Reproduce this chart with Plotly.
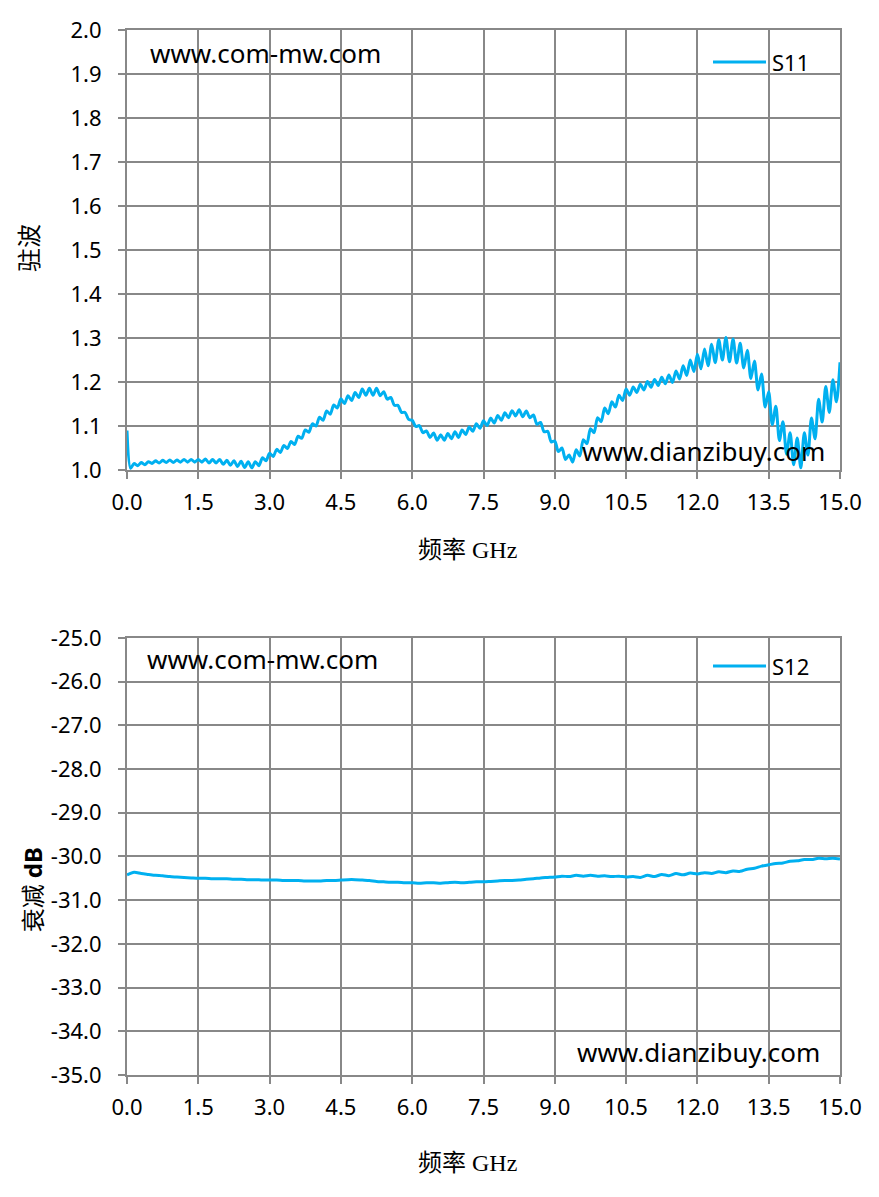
import plotly.graph_objects as go

# sweep: 0 - 15 GHz
s11_step = 0.075
s12_step = 0.15

s11_vswr = [
    1.090, 1.004, 1.015, 1.010, 1.017, 1.012, 1.019, 1.015, 1.021, 1.016,
    1.022, 1.017, 1.023, 1.017, 1.023, 1.018, 1.024, 1.018, 1.024, 1.018,
    1.024, 1.018, 1.025, 1.016, 1.024, 1.016, 1.024, 1.013, 1.022, 1.011,
    1.021, 1.008, 1.020, 1.006, 1.019, 1.005, 1.019, 1.010, 1.028, 1.021,
    1.038, 1.031, 1.047, 1.040, 1.056, 1.049, 1.065, 1.058, 1.077, 1.072,
    1.091, 1.086, 1.105, 1.100, 1.120, 1.113, 1.134, 1.127, 1.148, 1.141,
    1.162, 1.151, 1.169, 1.158, 1.176, 1.165, 1.184, 1.170, 1.186, 1.170,
    1.186, 1.169, 1.178, 1.161, 1.165, 1.147, 1.147, 1.131, 1.131, 1.115,
    1.113, 1.099, 1.101, 1.085, 1.089, 1.074, 1.084, 1.068, 1.080, 1.068,
    1.083, 1.071, 1.087, 1.074, 1.091, 1.081, 1.098, 1.088, 1.105, 1.095,
    1.112, 1.101, 1.118, 1.107, 1.124, 1.113, 1.130, 1.119, 1.135, 1.123,
    1.137, 1.121, 1.134, 1.119, 1.125, 1.104, 1.108, 1.087, 1.088, 1.064,
    1.066, 1.042, 1.050, 1.024, 1.034, 1.018, 1.046, 1.032, 1.069, 1.060,
    1.094, 1.085, 1.119, 1.110, 1.141, 1.128, 1.155, 1.143, 1.170, 1.158,
    1.184, 1.170, 1.189, 1.176, 1.195, 1.182, 1.201, 1.188, 1.206, 1.192,
    1.211, 1.196, 1.216, 1.199, 1.225, 1.207, 1.237, 1.215, 1.250, 1.224,
    1.263, 1.230, 1.275, 1.237, 1.286, 1.244, 1.296, 1.250, 1.301, 1.246,
    1.298, 1.243, 1.288, 1.232, 1.272, 1.208, 1.248, 1.182, 1.218, 1.143,
    1.178, 1.103, 1.145, 1.067, 1.110, 1.036, 1.085, 1.012, 1.073, 1.005,
    1.085, 1.034, 1.118, 1.071, 1.161, 1.109, 1.190, 1.131, 1.205, 1.155,
    1.245,
]

s12_db = [
    -30.42, -30.36, -30.39, -30.41, -30.43, -30.44, -30.46, -30.47, -30.48, -30.49,
    -30.50, -30.50, -30.51, -30.51, -30.51, -30.52, -30.52, -30.53, -30.53, -30.54,
    -30.54, -30.54, -30.55, -30.55, -30.55, -30.56, -30.56, -30.56, -30.55, -30.55,
    -30.54, -30.53, -30.53, -30.54, -30.55, -30.57, -30.58, -30.59, -30.59, -30.60,
    -30.60, -30.61, -30.60, -30.60, -30.61, -30.60, -30.59, -30.60, -30.59, -30.58,
    -30.58, -30.57, -30.56, -30.55, -30.55, -30.54, -30.52, -30.51, -30.49, -30.48,
    -30.47, -30.45, -30.46, -30.43, -30.45, -30.43, -30.45, -30.44, -30.46, -30.45,
    -30.47, -30.46, -30.48, -30.43, -30.46, -30.41, -30.44, -30.39, -30.42, -30.38,
    -30.40, -30.37, -30.39, -30.35, -30.37, -30.33, -30.34, -30.29, -30.27, -30.22,
    -30.19, -30.16, -30.15, -30.11, -30.10, -30.07, -30.07, -30.04, -30.05, -30.04,
    -30.06,
]

s11_freq = [round(i * s11_step, 3) for i in range(len(s11_vswr))]
s12_freq = [round(i * s12_step, 3) for i in range(len(s12_db))]

freq_ticks = [0.0, 1.5, 3.0, 4.5, 6.0, 7.5, 9.0, 10.5, 12.0, 13.5, 15.0]
vswr_ticks = [1.0, 1.1, 1.2, 1.3, 1.4, 1.5, 1.6, 1.7, 1.8, 1.9, 2.0]
db_ticks = [-35, -34, -33, -32, -31, -30, -29, -28, -27, -26, -25]

LINE = '#00B0F0'
GRID = '#888888'
TICK_FONT = dict(family='Noto Sans, Open Sans, sans-serif', size=22, color='#000000')
TITLE_FONT = dict(family='Liberation Serif, Noto Sans CJK SC, serif', size=24, color='#000000')
MARK_FONT = dict(family='Noto Sans, sans-serif', size=26, color='#000000')
LEG_FONT = dict(family='Noto Sans, sans-serif', size=22, color='#000000')

fig = go.Figure()

fig.add_trace(go.Scatter(
    x=s11_freq, y=s11_vswr, mode='lines', name='S11',
    line=dict(color=LINE, width=3, shape='spline', smoothing=0.8),
    xaxis='x', yaxis='y'
))
fig.add_trace(go.Scatter(
    x=s12_freq, y=s12_db, mode='lines', name='S12',
    line=dict(color=LINE, width=3, shape='spline', smoothing=0.8),
    xaxis='x2', yaxis='y2'
))

axis_common = dict(
    showgrid=True, gridcolor=GRID, gridwidth=2,
    showline=True, linecolor=GRID, linewidth=2, mirror=True,
    ticks='outside', ticklen=7, tickcolor=GRID, tickwidth=2,
    tickfont=TICK_FONT, zeroline=False, automargin=False,
)

fig.update_layout(
    width=871, height=1189,
    paper_bgcolor='white', plot_bgcolor='white',
    margin=dict(l=119, r=39, t=22, b=122, autoexpand=False),
    showlegend=False,
    xaxis=dict(axis_common, domain=[0, 1], anchor='y', range=[0, 15],
               tickvals=freq_ticks, ticktext=[f'{v:.1f}' for v in freq_ticks],
               ticklabelstandoff=5),
    yaxis=dict(axis_common, domain=[0.5789, 1], anchor='x', range=[1.0, 2.0],
               tickvals=vswr_ticks, ticktext=[f'{v:.1f}' for v in vswr_ticks],
               ticklabelstandoff=12),
    xaxis2=dict(axis_common, domain=[0, 1], anchor='y2', range=[0, 15],
                tickvals=freq_ticks, ticktext=[f'{v:.1f}' for v in freq_ticks],
                ticklabelstandoff=5),
    yaxis2=dict(axis_common, domain=[0, 0.4182], anchor='x2', range=[-35, -25],
                tickvals=db_ticks, ticktext=[f'{v:.1f}' for v in db_ticks],
                ticklabelstandoff=12),
)

# legend boxes (white patch over the grid, swatch, label)
shapes = []
annotations = []
for name, y_top, y_bot, y_mid in [('S11', 0.9933, 0.9455, 0.9694),
                                  ('S12', 0.4124, 0.3684, 0.3914)]:
    shapes.append(dict(type='rect', xref='paper', yref='paper', layer='between',
                       x0=0.7994, x1=0.9677, y0=y_bot, y1=y_top,
                       fillcolor='white', line=dict(width=0)))
    shapes.append(dict(type='line', xref='paper', yref='paper',
                       x0=0.8219, x1=0.8962, y0=y_mid, y1=y_mid,
                       line=dict(color=LINE, width=3)))
    annotations.append(dict(text=name, x=0.9018, y=y_mid, xanchor='left', font=LEG_FONT))

annotations += [
    # axis titles
    dict(text='频率 GHz', x=0.4769, y=0.5024, font=TITLE_FONT),
    dict(text='频率 GHz', x=0.4769, y=-0.0842, font=TITLE_FONT),
    dict(text='驻波', x=-0.136, y=0.7914, textangle=-90, font=TITLE_FONT),
    dict(text='衰减 <b><span style="font-family:Noto Sans">dB</span></b>',
         x=-0.133, y=0.177, textangle=-90, font=TITLE_FONT),
    # watermarks
    dict(text='www.com-mw.com', x=0.0295, y=0.978, xanchor='left', font=MARK_FONT),
    dict(text='www.com-mw.com', x=0.0252, y=0.398, xanchor='left', font=MARK_FONT),
    dict(text='www.dianzibuy.com', x=0.635, y=0.597, xanchor='left', font=MARK_FONT),
    dict(text='www.dianzibuy.com', x=0.628, y=0.022, xanchor='left', font=MARK_FONT),
]
for a in annotations:
    a.setdefault('xanchor', 'center')
    a.setdefault('yanchor', 'middle')
    fig.add_annotation(xref='paper', yref='paper', showarrow=False, **a)

fig.update_layout(shapes=shapes)

fig.write_html("out.html")
